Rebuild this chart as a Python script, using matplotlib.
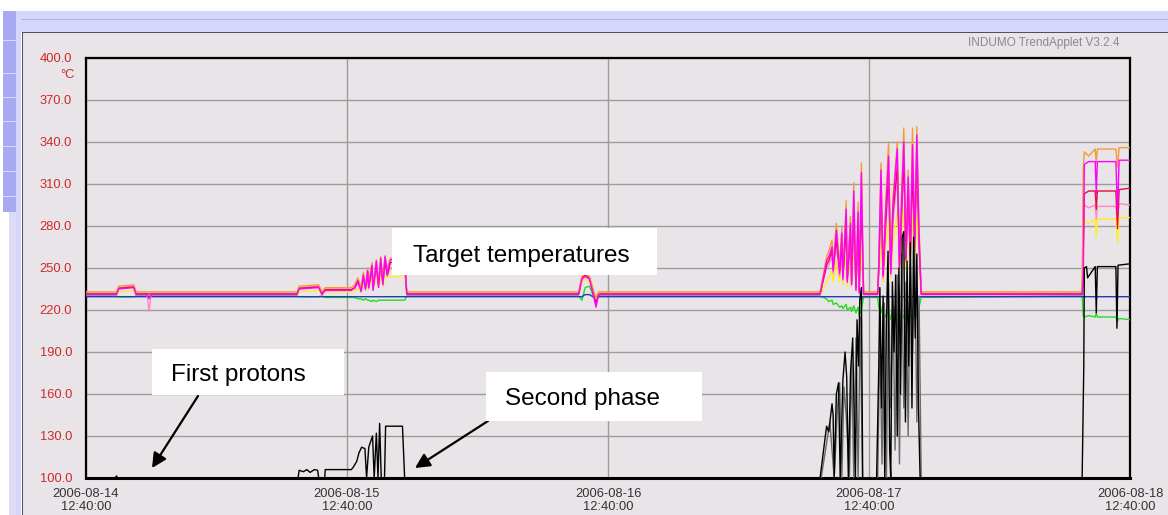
import matplotlib
matplotlib.use('Agg')
from matplotlib import pyplot as plt
from matplotlib.patches import Rectangle


# time axis: hours after 2006-08-14 12:40:00
x_ticks = [0, 24, 48, 72, 96]
x_labels = ['2006-08-14\n12:40:00', '2006-08-15\n12:40:00', '2006-08-16\n12:40:00',
            '2006-08-17\n12:40:00', '2006-08-18\n12:40:00']
y_ticks = [100, 130, 160, 190, 220, 250, 280, 310, 340, 370, 400]

# target temperature channels share one time base
t_temp = [0.0, 2.8,
          3.0, 4.4, 4.6,
          5.6, 5.8, 6.0,
          19.4, 19.6, 21.4, 21.7, 22.0,
          24.4, 24.7, 25.0, 25.3, 25.5, 25.7, 25.9, 26.0, 26.3, 26.4,
          26.7, 26.9, 27.1, 27.3, 27.5, 27.7, 28.0, 29.3, 29.5,
          45.3, 45.6, 45.9, 46.3, 46.6, 46.9, 47.1, 47.3,
          67.5, 68.1, 68.3, 68.6, 68.7, 69.0, 69.3, 69.5, 69.6, 69.9,
          70.0, 70.3, 70.4, 70.6, 70.8, 71.0, 71.1, 71.3, 71.5,
          72.8, 72.9, 73.1, 73.3, 73.5, 73.8, 74.0, 74.2, 74.6, 74.8,
          75.0, 75.2, 75.4, 75.6, 75.8, 76.0, 76.2, 76.4, 76.6, 76.8,
          91.6, 91.7, 91.8, 92.2, 92.8, 92.9, 93.0, 94.7, 94.85, 95.0, 96.0]

orange = [233, 233,
          237, 238, 233,
          233, 233, 233,
          233, 237, 238, 233, 236,
          236, 238, 243, 236, 247, 238, 250, 240, 254, 238,
          256, 240, 258, 242, 259, 250, 257, 257, 233,
          233, 244, 246, 244, 236, 228, 233, 233,
          233, 258, 262, 270, 254, 282, 252, 279, 247, 298,
          245, 287, 242, 311, 238, 297, 236, 325, 233,
          233, 255, 325, 248, 290, 340, 250, 300, 340, 255,
          305, 350, 262, 320, 265, 350, 275, 351, 280, 233,
          233, 320, 333, 330, 335, 325, 335, 335, 322, 336, 336]

magenta = [231, 231,
           235, 236, 231,
           231, 228, 231,
           231, 235, 236, 231, 234,
           234, 236, 241, 233, 245, 235, 248, 236, 252, 234,
           255, 236, 257, 238, 258, 246, 256, 256, 231,
           231, 242, 244, 242, 232, 222, 230, 231,
           231, 255, 258, 265, 248, 277, 246, 275, 242, 292,
           240, 282, 238, 305, 234, 290, 232, 318, 231,
           231, 252, 320, 244, 285, 330, 246, 295, 335, 250,
           298, 340, 258, 315, 260, 338, 270, 345, 275, 231,
           231, 240, 324, 326, 326, 303, 326, 326, 290, 327, 327]

red = [231.5, 231.5,
       235.5, 236.5, 231.5,
       231.5, 231.5, 231.5,
       231.5, 235.5, 236.5, 231.5, 234.5,
       234.5, 236, 240, 235, 244, 236, 247, 237, 250, 236,
       252, 238, 254, 240, 255, 245, 254, 254, 231.5,
       231.5, 243, 245, 243, 234, 225, 231, 231.5,
       231.5, 252, 255, 262, 250, 270, 248, 268, 244, 280,
       242, 275, 240, 290, 236, 280, 234, 300, 231.5,
       231.5, 250, 305, 245, 278, 318, 248, 288, 322, 252,
       290, 330, 256, 305, 258, 322, 265, 330, 268, 231.5,
       231.5, 260, 303, 305, 305, 292, 305, 305, 278, 306, 307]

pink = [232, 232,
        236, 237, 232,
        232, 219, 232,
        232, 236, 237, 232, 235,
        235, 235, 239, 234, 242, 234, 245, 235, 248, 235,
        250, 237, 252, 238, 253, 244, 250, 250, 232,
        232, 243, 245, 243, 235, 224, 232, 232,
        232, 250, 252, 258, 246, 265, 244, 262, 241, 275,
        240, 268, 238, 285, 235, 275, 233, 295, 232,
        232, 248, 300, 242, 272, 310, 245, 282, 315, 250,
        285, 322, 254, 298, 255, 315, 262, 325, 265, 232,
        232, 300, 295, 293, 295, 285, 294, 294, 285, 296, 295]

yellow = [231, 231,
          233, 234, 231,
          231, 231, 231,
          231, 233, 234, 231, 233,
          233, 233, 236, 233, 239, 234, 241, 235, 243, 235,
          244, 236, 245, 237, 244, 244, 244, 244, 231,
          231, 240, 242, 240, 233, 227, 231, 231,
          231, 240, 243, 248, 240, 255, 240, 258, 238, 262,
          237, 260, 236, 265, 234, 258, 233, 265, 231,
          231, 242, 270, 240, 262, 285, 243, 268, 290, 245,
          275, 292, 250, 280, 252, 290, 255, 288, 258, 231,
          231, 285, 284, 282, 285, 272, 285, 285, 268, 286, 286]

green = [230, 230,
         229.5, 229.5, 230,
         230, 230, 230,
         230, 229.5, 229.5, 230, 229,
         229, 229, 228, 228, 227, 228, 227, 227, 226, 227,
         226, 227, 227, 227, 227, 227, 227, 227, 230,
         230, 227, 236, 237, 231, 226, 229, 230,
         230, 228, 226, 227, 224, 225, 222, 223, 221, 224,
         220, 222, 219, 223, 218, 222, 216, 220, 229,
         229, 222, 218, 224, 215, 220, 213, 222, 216, 212,
         220, 214, 218, 210, 216, 212, 218, 215, 222, 229,
         230, 216, 215, 216, 215, 218, 215, 215, 212, 214, 213]

t_blue = [0, 45.6, 45.9, 46.3, 46.6, 71.2, 71.3, 71.4, 96]
blue = [229.5, 229.5, 231, 231, 229.5, 229.5, 227, 229.5, 229.5]

# beam channels (black and grey)
t_black = [0, 2.7, 2.8, 2.9,
           19.5, 19.6, 20.0, 20.3, 20.6, 21.0, 21.3, 21.4, 21.95, 22.0,
           24.4, 24.6, 24.9, 25.1, 25.35, 25.65, 25.8, 26.0, 26.35, 26.5,
           26.7, 26.85, 27.0, 27.15, 27.45, 27.55, 29.1, 29.3,
           67.5, 68.1, 68.3, 68.6, 68.7, 68.8, 69.0, 69.2, 69.35, 69.6,
           69.8, 69.95, 70.1, 70.3, 70.5, 70.65, 70.75, 70.9, 71.05, 71.15,
           71.3, 71.42,
           72.7, 72.9, 73.0, 73.15, 73.3, 73.45, 73.6, 73.75, 73.9, 74.0,
           74.15, 74.3, 74.45, 74.6, 74.75, 74.9, 75.05, 75.2, 75.35, 75.5,
           75.65, 75.8, 75.95, 76.1, 76.25, 76.4, 76.55, 76.7,
           91.6, 91.75, 91.8, 92.0, 92.1, 92.8, 92.9, 93.0, 94.7, 94.8, 94.9, 96.0]
black = [100, 100, 101.5, 100,
         100, 105.5, 104.5, 106, 104, 106, 105.5, 100, 100, 106,
         106, 108, 112, 118, 122, 121, 100, 122, 130, 100,
         132, 100, 139, 100, 100, 137, 137, 100,
         100, 137, 133, 153, 145, 100, 160, 168, 100, 170,
         190, 172, 100, 175, 200, 140, 100, 213, 180, 227,
         236, 100,
         100, 180, 236, 150, 230, 100, 210, 262, 120, 100,
         240, 190, 245, 130, 250, 160, 272, 276, 140, 255,
         180, 268, 150, 272, 200, 260, 150, 100,
         100, 180, 250, 251, 243, 251, 218, 251, 251, 207, 252, 253]

t_grey = [67.6, 68.4, 68.8, 69.1, 69.3, 69.5, 69.7, 69.9, 70.2, 70.4,
          70.6, 70.8, 71.0, 71.2, 71.4,
          72.8, 73.0, 73.2, 73.4, 73.6, 73.8, 74.0, 74.2, 74.4, 74.6,
          74.8, 75.0, 75.2, 75.4, 75.6, 75.8, 76.0, 76.2, 76.4, 76.6, 76.8]
grey = [100, 140, 100, 150, 168, 100, 165, 145, 100, 185,
        100, 200, 100, 215, 100,
        100, 200, 110, 225, 100, 240, 150, 230, 120, 245,
        110, 260, 150, 240, 130, 255, 190, 265, 140, 230, 100]

W, H = 1168, 515
PANEL = '#e8e4e8'


def px_rect(fig, x0, y0, x1, y1, color, z=-5, **kw):
    # rectangle given in screen pixels (top-left origin)
    r = Rectangle((x0 / W, 1 - y1 / H), (x1 - x0) / W, (y1 - y0) / H,
                  transform=fig.transFigure, facecolor=color, zorder=z, **kw)
    fig.add_artist(r)


def main():
    plt.rcParams['font.family'] = ['Liberation Sans', 'DejaVu Sans']
    fig = plt.figure(figsize=(W / 100, H / 100), dpi=100, facecolor='white')

    # applet chrome
    px_rect(fig, 17, 11, W, 32, '#d6d6fa', linewidth=0)
    px_rect(fig, 17, 19, W, 20, '#b4b4d8', linewidth=0)
    px_rect(fig, 3, 11, 16, 212, '#a9a9f2', linewidth=0)
    for yy in [40, 73, 97, 121, 146, 171, 196]:
        px_rect(fig, 3, yy, 16, yy + 1, '#d8d8fc', linewidth=0)
    px_rect(fig, 9, 212, 16, H, '#dcdcf8', linewidth=0)
    px_rect(fig, 16, 11, 21, H, '#d6d6fa', linewidth=0)
    px_rect(fig, 22, 32, W, H, PANEL, linewidth=0)
    px_rect(fig, 22, 32, W, 33, '#505060', linewidth=0)
    px_rect(fig, 22, 32, 23, H, '#505060', linewidth=0)

    ax = fig.add_axes([86 / W, 1 - 478 / H, (1130 - 86) / W, (478 - 58) / H])
    ax.set_facecolor(PANEL)

    lw = 1.0
    ax.plot(t_temp, yellow, color='#ffee22', lw=lw, zorder=3)
    ax.plot(t_temp, green, color='#22dd22', lw=lw, zorder=3)
    ax.plot(t_blue, blue, color='#1f3fb0', lw=lw, zorder=3)
    ax.plot(t_temp, pink, color='#ff88c8', lw=lw, zorder=4)
    ax.plot(t_temp, red, color='#e0103c', lw=lw, zorder=4)
    ax.plot(t_temp, orange, color='#f59a3a', lw=lw, zorder=4)
    ax.plot(t_temp, magenta, color='#ff00ff', lw=1.0, zorder=5)
    ax.plot(t_grey, grey, color='#6a6a6a', lw=lw, zorder=6)
    ax.plot(t_black, black, color='black', lw=lw, zorder=7)

    ax.set_xlim(0, 96)
    ax.set_ylim(100, 400)
    ax.set_xticks(x_ticks)
    ax.set_xticklabels(x_labels, fontsize=9.3, color='#333333', linespacing=1.1)
    ax.set_yticks(y_ticks)
    ax.set_yticklabels(['%.1f' % v for v in y_ticks], fontsize=9.3, color='#cc2a2a')
    ax.tick_params(axis='both', length=0)
    ax.tick_params(axis='y', pad=10)
    ax.tick_params(axis='x', pad=7)
    ax.grid(True, color='#9c9c9c', lw=1.0, zorder=1)
    ax.set_axisbelow(True)
    for name, sp in ax.spines.items():
        sp.set_color('black')
        sp.set_linewidth(1.6)
    ax.spines['bottom'].set_linewidth(2.2)

    fig.text(75 / W, 1 - 75 / H, '°C', ha='right', va='center',
             fontsize=9.3, color='#cc2a2a')
    fig.text(1120 / W, 1 - 43 / H, 'INDUMO TrendApplet V3.2.4', ha='right',
             va='center', fontsize=8.5, color='#8a8a8a')

    # annotation boxes
    boxes = [(392, 228, 657, 275, 413, 262, 'Target temperatures'),
             (152, 349, 344, 395, 171, 381, 'First protons'),
             (486, 372, 702, 421, 505, 405, 'Second phase')]
    for x0, y0, x1, y1, tx, ty, label in boxes:
        px_rect(fig, x0, y0, x1, y1, 'white', z=10, linewidth=0)
        fig.text(tx / W, 1 - ty / H, label, ha='left', va='baseline',
                 fontsize=17.5, color='black', zorder=11)

    for (sx, sy), (ex, ey) in [((198, 396), (152, 468)), ((488, 421), (415, 468))]:
        ax.annotate('', xy=(ex, H - ey), xycoords='figure pixels',
                    xytext=(sx, H - sy), textcoords='figure pixels',
                    arrowprops=dict(arrowstyle='-|>', color='black', lw=1.6,
                                    mutation_scale=22, shrinkA=0, shrinkB=0),
                    annotation_clip=False, zorder=12)

    fig.savefig('out.png', dpi=100, facecolor='white')


if __name__ == '__main__':
    main()
